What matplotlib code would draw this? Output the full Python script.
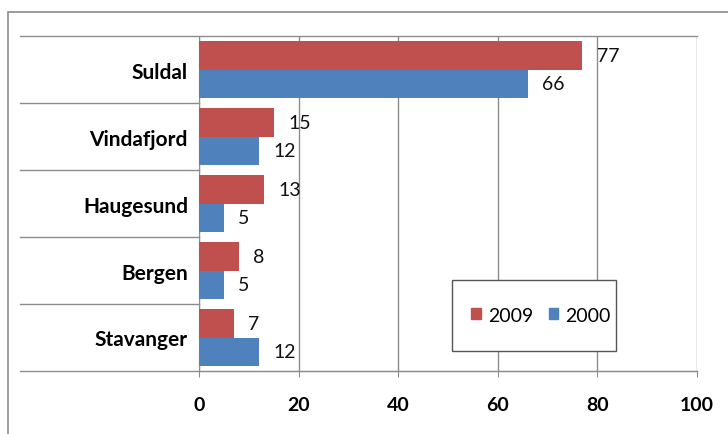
import matplotlib.pyplot as plt
import numpy as np
from matplotlib.patches import Rectangle, Patch

# data
places = ["Suldal", "Vindafjord", "Haugesund", "Bergen", "Stavanger"]
y2009 = [77, 15, 13, 8, 7]
y2000 = [66, 12, 5, 5, 12]
xticks = [0, 20, 40, 60, 80, 100]

red = "#C0504D"
blue = "#4F81BD"
grey = "#8C8C8C"
plt.rcParams['font.family'] = ['Lato', 'DejaVu Sans']

W, H = 728, 435
fig = plt.figure(figsize=(W / 100, H / 100), dpi=100)
ax = fig.add_axes([199 / W, 63 / H, 498 / W, 335 / H])

# outer chart border
fig.patches.append(Rectangle((8 / W, -0.05), 1.2, 1.05 - 13 / H, transform=fig.transFigure,
                             fill=False, edgecolor=grey, lw=1.2))

pos = np.arange(len(places))
h = 0.42
b1 = ax.barh(pos - h / 2, y2009, height=h, color=red, label="2009", zorder=3)
b2 = ax.barh(pos + h / 2, y2000, height=h, color=blue, label="2000", zorder=3)

for bars, vals in [(b1, y2009), (b2, y2000)]:
    for bar, v in zip(bars, vals):
        ax.text(v + 2.9, bar.get_y() + bar.get_height() / 2, str(v), va="center", ha="left",
                fontsize=14, color="#111111")

ax.set_xlim(0, 100)
ax.set_ylim(len(places) - 0.5, -0.5)
ax.set_xticks(xticks)
ax.set_yticks(pos)
ax.set_yticklabels(places, fontsize=15, fontweight="bold")
ax.set_xticklabels([str(t) for t in xticks], fontsize=14, fontweight="bold")
ax.tick_params(axis="y", length=0, pad=8)
ax.tick_params(axis="x", length=4, color=grey, pad=14)

ax.grid(axis="x", color=grey, lw=1, zorder=0)
for side in ["top", "right"]:
    ax.spines[side].set_visible(False)
ax.spines["left"].set_color(grey)
ax.spines["bottom"].set_color(grey)

# category separators extending left of the axis
seps = np.arange(len(places) + 1) - 0.5
for s in seps:
    x1 = 1.0 if s in (seps[0], seps[-1]) else 0.0
    ax.plot([-0.36, x1], [s, s], transform=ax.get_yaxis_transform(), color=grey,
            lw=1, clip_on=False, zorder=1)

# legend box drawn by hand, entries without frame
fig.patches.append(Rectangle((452 / W, 1 - 352 / H), 164 / W, 71 / H, transform=fig.transFigure,
                             facecolor="white", edgecolor="#555555", lw=1, zorder=5))
handles = [Patch(color=red, label="2009"), Patch(color=blue, label="2000")]
leg = fig.legend(handles=handles, loc="center", bbox_to_anchor=(541 / W, 1 - 316 / H),
                 ncol=2, fontsize=14, frameon=False, borderpad=0, handlelength=0.5,
                 handleheight=0.5, handletextpad=0.35, columnspacing=0.8)
leg.set_zorder(6)

fig.savefig("out.png", dpi=100)
